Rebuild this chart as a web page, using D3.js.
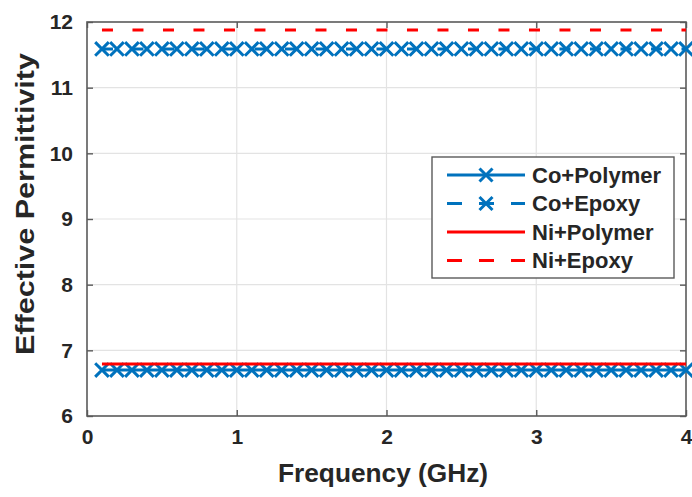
<!DOCTYPE html>
<html>
<head>
<meta charset="utf-8">
<script src="https://cdn.jsdelivr.net/npm/d3@7"></script>
<style>
  html, body { margin: 0; padding: 0; background: #fff; }
  svg { display: block; font-family: "Liberation Sans", Arial, sans-serif; font-weight: bold; }
</style>
</head>
<body>
<svg id="chart" width="692" height="497"></svg>
<script>
// Frequency sweep (GHz)
const frequency = [0.1, 0.2, 0.3, 0.4, 0.5, 0.6, 0.7, 0.8, 0.9, 1.0,
                   1.1, 1.2, 1.3, 1.4, 1.5, 1.6, 1.7, 1.8, 1.9, 2.0,
                   2.1, 2.2, 2.3, 2.4, 2.5, 2.6, 2.7, 2.8, 2.9, 3.0,
                   3.1, 3.2, 3.3, 3.4, 3.5, 3.6, 3.7, 3.8, 3.9, 4.0];

// Effective permittivity for each composite
const coPolymer = [6.70, 6.70, 6.70, 6.70, 6.70, 6.70, 6.70, 6.70, 6.70, 6.70,
                   6.70, 6.70, 6.70, 6.70, 6.70, 6.70, 6.70, 6.70, 6.70, 6.70,
                   6.70, 6.70, 6.70, 6.70, 6.70, 6.70, 6.70, 6.70, 6.70, 6.70,
                   6.70, 6.70, 6.70, 6.70, 6.70, 6.70, 6.70, 6.70, 6.70, 6.70];
const coEpoxy   = [11.59, 11.59, 11.59, 11.59, 11.59, 11.59, 11.59, 11.59, 11.59, 11.59,
                   11.59, 11.59, 11.59, 11.59, 11.59, 11.59, 11.59, 11.59, 11.59, 11.59,
                   11.59, 11.59, 11.59, 11.59, 11.59, 11.59, 11.59, 11.59, 11.59, 11.59,
                   11.59, 11.59, 11.59, 11.59, 11.59, 11.59, 11.59, 11.59, 11.59, 11.59];
const niPolymer = [6.79, 6.79, 6.79, 6.79, 6.79, 6.79, 6.79, 6.79, 6.79, 6.79,
                   6.79, 6.79, 6.79, 6.79, 6.79, 6.79, 6.79, 6.79, 6.79, 6.79,
                   6.79, 6.79, 6.79, 6.79, 6.79, 6.79, 6.79, 6.79, 6.79, 6.79,
                   6.79, 6.79, 6.79, 6.79, 6.79, 6.79, 6.79, 6.79, 6.79, 6.79];
const niEpoxy   = [11.88, 11.88, 11.88, 11.88, 11.88, 11.88, 11.88, 11.88, 11.88, 11.88,
                   11.88, 11.88, 11.88, 11.88, 11.88, 11.88, 11.88, 11.88, 11.88, 11.88,
                   11.88, 11.88, 11.88, 11.88, 11.88, 11.88, 11.88, 11.88, 11.88, 11.88,
                   11.88, 11.88, 11.88, 11.88, 11.88, 11.88, 11.88, 11.88, 11.88, 11.88];

const seriesNames = ["Co+Polymer", "Co+Epoxy", "Ni+Polymer", "Ni+Epoxy"];
const xTicks = [0, 1, 2, 3, 4];
const yTicks = [6, 7, 8, 9, 10, 11, 12];

const BLUE = "#0072BD", RED = "#FF0000";
const DASH = "11 19.5";

const series = [
  { name: seriesNames[0], values: coPolymer, color: BLUE, dash: null, marker: true },
  { name: seriesNames[1], values: coEpoxy,   color: BLUE, dash: DASH, marker: true },
  { name: seriesNames[2], values: niPolymer, color: RED,  dash: null, marker: false },
  { name: seriesNames[3], values: niEpoxy,   color: RED,  dash: DASH, marker: false }
];

const svg = d3.select("#chart");
const L = 87, R = 686, T = 22, B = 416;
const x = d3.scaleLinear().domain([0, 4]).range([L, R]);
const y = d3.scaleLinear().domain([6, 12]).range([B, T]);

const AXIS = "#5a5a5a", TEXT = "#262626", GRID = "#e3e3e3";

// grid
const grid = svg.append("g");
grid.selectAll(".gx").data(xTicks.slice(1, -1)).join("line")
  .attr("x1", d => x(d)).attr("x2", d => x(d)).attr("y1", T).attr("y2", B)
  .attr("stroke", GRID).attr("stroke-width", 1.2);
grid.selectAll(".gy").data(yTicks.slice(1, -1)).join("line")
  .attr("x1", L).attr("x2", R).attr("y1", d => y(d)).attr("y2", d => y(d))
  .attr("stroke", GRID).attr("stroke-width", 1.2);

// axes with inward ticks
function styleAxis(g) {
  g.select(".domain").remove();
  g.selectAll(".tick line").attr("stroke", AXIS).attr("stroke-width", 1.4);
  g.selectAll(".tick text").attr("fill", TEXT).attr("font-size", 21).attr("font-weight", "bold")
    .attr("font-family", "'Liberation Sans', Arial, sans-serif");
}
svg.append("g").attr("transform", `translate(0,${B})`)
  .call(d3.axisBottom(x).tickValues(xTicks).tickFormat(d3.format("d")).tickSize(-6).tickPadding(13))
  .call(styleAxis);
svg.append("g").attr("transform", `translate(0,${T})`)
  .call(d3.axisTop(x).tickValues(xTicks).tickFormat("").tickSize(-6))
  .call(styleAxis);
svg.append("g").attr("transform", `translate(${L},0)`)
  .call(d3.axisLeft(y).tickValues(yTicks).tickFormat(d3.format("d")).tickSize(-6).tickPadding(14))
  .call(styleAxis);
svg.append("g").attr("transform", `translate(${R},0)`)
  .call(d3.axisRight(y).tickValues(yTicks).tickFormat("").tickSize(-6))
  .call(styleAxis);

// box
svg.append("rect").attr("x", L).attr("y", T).attr("width", R - L).attr("height", B - T)
  .attr("fill", "none").attr("stroke", AXIS).attr("stroke-width", 1.6);

// series
const line = d3.line().x((d, i) => x(frequency[i])).y(d => y(d));
const xMark = s => `M${-s},${-s}L${s},${s}M${-s},${s}L${s},${-s}`;

series.forEach(s => {
  svg.append("path").datum(s.values)
    .attr("d", line).attr("fill", "none")
    .attr("stroke", s.color).attr("stroke-width", 3)
    .attr("stroke-dasharray", s.dash);
  if (s.marker) {
    svg.append("g").selectAll("path").data(s.values).join("path")
      .attr("transform", (d, i) => `translate(${x(frequency[i])},${y(d)})`)
      .attr("d", xMark(6.8)).attr("fill", "none")
      .attr("stroke", s.color).attr("stroke-width", 3);
  }
});

// legend
const lg = svg.append("g");
lg.append("rect").attr("x", 432).attr("y", 157).attr("width", 242).attr("height", 121)
  .attr("fill", "#fff").attr("stroke", AXIS).attr("stroke-width", 1.4);
series.forEach((s, i) => {
  const cy = 175 + i * 28.5;
  lg.append("line").attr("x1", 447).attr("x2", 525).attr("y1", cy).attr("y2", cy)
    .attr("stroke", s.color).attr("stroke-width", 3)
    .attr("stroke-dasharray", s.dash ? "15 17" : null);
  if (s.marker) {
    lg.append("path").attr("transform", `translate(486,${cy})`)
      .attr("d", xMark(6.5)).attr("fill", "none").attr("stroke", s.color).attr("stroke-width", 3);
  }
  lg.append("text").attr("x", 532).attr("y", cy + 7.8)
    .attr("font-size", 22).attr("fill", TEXT).text(s.name);
});

// axis titles
svg.append("text").attr("x", 383).attr("y", 482).attr("text-anchor", "middle")
  .attr("font-size", 26).attr("textLength", 210).attr("lengthAdjust", "spacingAndGlyphs")
  .attr("fill", TEXT).text("Frequency (GHz)");
svg.append("text").attr("transform", "translate(34,204) rotate(-90)").attr("text-anchor", "middle")
  .attr("font-size", 26).attr("textLength", 302).attr("lengthAdjust", "spacingAndGlyphs")
  .attr("fill", TEXT).text("Effective Permittivity");
</script>
</body>
</html>
